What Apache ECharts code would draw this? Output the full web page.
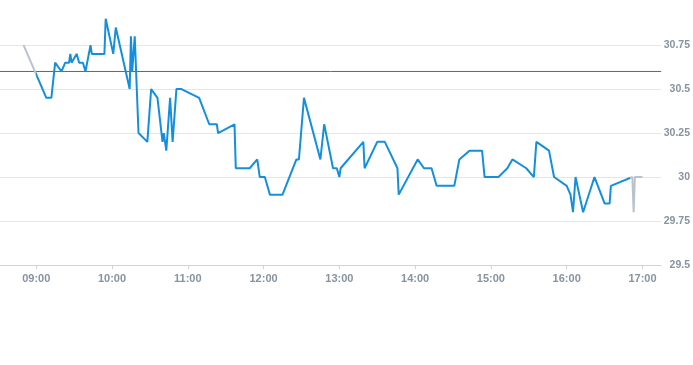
<!DOCTYPE html>
<html>
<head>
<meta charset="utf-8">
<script src="https://cdn.jsdelivr.net/npm/echarts@6/dist/echarts.min.js"></script>
<style>
  html, body { margin: 0; padding: 0; background: #ffffff; }
  #chart { width: 693px; height: 365px; }
</style>
</head>
<body>
<div id="chart"></div>
<script>
// ---- data ----
const times = ["08:50","09:08","09:12","09:15","09:20","09:23","09:26","09:27","09:28","09:32","09:34","09:37","09:39","09:43","09:44","09:54","09:55","10:01","10:03","10:14","10:15","10:16","10:18","10:21","10:28","10:31","10:32","10:36","10:40","10:41","10:43","10:46","10:48","10:51","10:55","11:09","11:17","11:23","11:24","11:37","11:38","11:49","11:55","11:57","12:01","12:05","12:15","12:26","12:28","12:32","12:45","12:48","12:55","12:58","13:00","13:01","13:19","13:20","13:30","13:36","13:46","13:47","14:02","14:07","14:13","14:17","14:31","14:35","14:43","14:53","14:55","15:06","15:13","15:17","15:28","15:34","15:36","15:46","15:50","16:00","16:03","16:05","16:07","16:13","16:22","16:30","16:34","16:35","16:52","16:53","16:54","17:00"];
const prices = [30.75,30.45,30.45,30.65,30.6,30.65,30.65,30.7,30.65,30.7,30.65,30.65,30.6,30.75,30.7,30.7,30.9,30.7,30.85,30.5,30.8,30.6,30.8,30.25,30.2,30.5,30.5,30.45,30.2,30.25,30.15,30.45,30.2,30.5,30.5,30.45,30.3,30.3,30.25,30.3,30.05,30.05,30.1,30.0,30.0,29.9,29.9,30.1,30.1,30.45,30.1,30.3,30.05,30.05,30.0,30.05,30.2,30.05,30.2,30.2,30.05,29.9,30.1,30.05,30.05,29.95,29.95,30.1,30.15,30.15,30.0,30.0,30.05,30.1,30.05,30.0,30.2,30.15,30.0,29.95,29.9,29.8,30.0,29.8,30.0,29.85,29.85,29.95,30.0,29.8,30.0,30.0];
const referencePrice = 30.6;
const sessionStart = "09:00";
const sessionEnd = "16:50";
const axisStart = "08:31:20";
const axisEnd = "17:14:40";
const yMin = 29.5;
const yStep = 0.25;

// ---- helpers ----
function ts(s) {
  const p = s.split(':').map(Number);
  return new Date(2024, 0, 2, p[0], p[1], p[2] || 0).getTime();
}
const seriesData = times.map((t, i) => [ts(t), prices[i]]);
const refData = [[ts(axisStart), referencePrice], [ts(axisEnd), referencePrice]];

const BLUE = '#138fdd';
const GRAY = '#b8c3cd';
const LABEL = '#8793a0';
const RED = '#cf3a3a';

const chart = echarts.init(document.getElementById('chart'), null, { renderer: 'canvas' });
chart.setOption({
  animation: false,
  backgroundColor: '#ffffff',
  grid: { left: 0, right: 30, top: 18.7, bottom: 100, containLabel: false },
  xAxis: {
    type: 'time',
    min: ts(axisStart),
    max: ts(axisEnd),
    minInterval: 3600 * 1000,
    maxInterval: 3600 * 1000,
    axisLine: { lineStyle: { color: '#ccd3db', width: 1 } },
    axisTick: { show: true, length: 4, lineStyle: { color: '#ccd3db' } },
    splitLine: { show: false },
    axisLabel: {
      color: LABEL, fontSize: 11, fontWeight: 'bold', margin: 8,
      fontFamily: 'Liberation Sans, Arial, sans-serif',
      formatter: '{HH}:{mm}',
      hideOverlap: false
    }
  },
  yAxis: {
    type: 'value',
    position: 'right',
    min: yMin,
    max: Math.max.apply(null, prices),
    interval: yStep,
    axisLine: { show: false },
    axisTick: { show: false },
    splitLine: { show: true, showMaxLine: false, lineStyle: { color: '#e2e7ec', width: 1 } },
    axisLabel: {
      color: LABEL, fontSize: 10.5, fontWeight: 'bold', align: 'right', margin: 29,
      fontFamily: 'Liberation Sans, Arial, sans-serif',
      showMaxLabel: false,
      formatter: v => String(+v.toFixed(2))
    }
  },
  visualMap: {
    show: false,
    type: 'piecewise',
    dimension: 0,
    seriesIndex: 0,
    pieces: [
      { lt: ts(sessionStart), color: GRAY },
      { gte: ts(sessionStart), lte: ts(sessionEnd), color: BLUE },
      { gt: ts(sessionEnd), color: GRAY }
    ]
  },
  series: [{
    type: 'line',
    data: seriesData,
    showSymbol: false,
    symbol: 'none',
    lineStyle: { width: 2 },
    z: 3
  }, {
    type: 'line',
    data: refData,
    showSymbol: false,
    symbol: 'none',
    silent: true,
    color: RED,
    itemStyle: { color: RED },
    lineStyle: { color: RED, width: 1 },
    z: 2
  }]
});
</script>
</body>
</html>
